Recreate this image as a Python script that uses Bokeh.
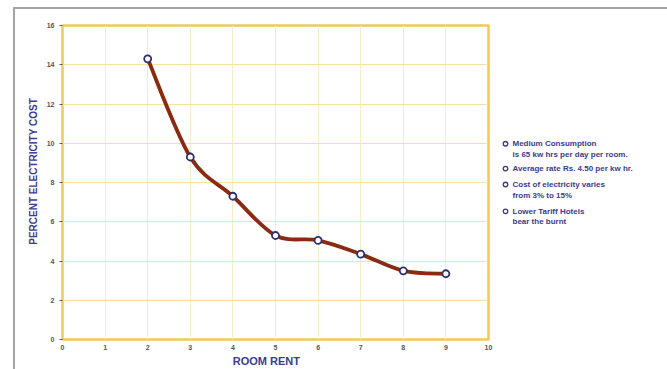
from bokeh.plotting import figure
from bokeh.layouts import row
from bokeh.models import FixedTicker, Range1d
from bokeh.core.properties import value
from bokeh.embed import file_html
from bokeh.resources import INLINE

# ---- data ----
room_rent = [2, 3, 4, 5, 6, 7, 8, 9]
percent_cost = [14.3, 9.3, 7.3, 5.3, 5.05, 4.35, 3.5, 3.35]
x_ticks = list(range(0, 11))
y_ticks = list(range(0, 17, 2))
note_lines = ["Medium Consumption", "is 65 kw hrs per day per room.",
              "Average rate Rs. 4.50 per kw hr.",
              "Cost of electricity varies", "from 3% to 15%",
              "Lower Tariff Hotels", "bear the burnt"]
note_starts = [True, False, True, True, False, True, False]

# ---- layout (page pixels) ----
OX, OY = 15, 9            # top-left of the figures inside the gray border
SPLIT = 495
MAIN_W = SPLIT - OX
H = 369 - OY
FL, FR, FT, FB = 62, 488, 25, 341
FONT = "Liberation Sans"
BLUE = "#3b3b96"

p = figure(width=MAIN_W, height=H, output_backend="svg", toolbar_location=None,
           x_range=Range1d(0, 10), y_range=Range1d(0, 16),
           min_border_left=FL - OX, min_border_right=SPLIT - FR,
           min_border_top=FT - OY, min_border_bottom=369 - FB)
p.background_fill_color = "white"
p.border_fill_color = "white"
p.outline_line_color = "#f2c85a"
p.outline_line_width = 2.5

p.xgrid.ticker = FixedTicker(ticks=x_ticks)
p.ygrid.ticker = FixedTicker(ticks=y_ticks)
p.xgrid.grid_line_color = "#f8ecc8"
p.ygrid.grid_line_color = "#f6e2a8"
p.ygrid.grid_line_width = 1.2

for ax in (p.xaxis[0], p.yaxis[0]):
    ax.axis_line_color = None
    ax.major_tick_line_color = "#555555"
    ax.minor_tick_line_color = None
    ax.major_label_text_font = FONT
    ax.major_label_text_font_style = "bold"
    ax.major_label_text_font_size = "7px"
    ax.major_label_text_color = "#555555"
    ax.axis_label_text_font = FONT
    ax.axis_label_text_font_style = "bold"
    ax.axis_label_text_color = BLUE
p.xaxis.ticker = FixedTicker(ticks=x_ticks)
p.yaxis.ticker = FixedTicker(ticks=y_ticks)
p.xaxis.major_tick_out = 0
p.xaxis.major_tick_in = 0
p.xaxis.major_label_standoff = 5
p.xaxis.axis_label = "ROOM RENT" + "\u00a0" * 6
p.xaxis.axis_label_text_font_size = "11px"
p.xaxis.axis_label_standoff = 2
p.yaxis.major_tick_out = 3
p.yaxis.major_tick_in = 0
p.yaxis.major_label_standoff = 5
p.yaxis.axis_label = "\u00a0" * 8 + "PERCENT ELECTRICITY COST"
p.yaxis.axis_label_text_font_size = "10px"
p.yaxis.axis_label_standoff = 5

# smooth curve (Catmull-Rom through the data points)
n = len(room_rent)
pts = list(zip(room_rent, percent_cost))
x0s, y0s, x1s, y1s, cx0, cy0, cx1, cy1 = [], [], [], [], [], [], [], []
for i in range(n - 1):
    pm = pts[max(i - 1, 0)]
    p0 = pts[i]
    p1 = pts[i + 1]
    p2 = pts[min(i + 2, n - 1)]
    x0s.append(p0[0]); y0s.append(p0[1])
    x1s.append(p1[0]); y1s.append(p1[1])
    cx0.append(p0[0] + (p1[0] - pm[0]) / 6); cy0.append(p0[1] + (p1[1] - pm[1]) / 6)
    cx1.append(p1[0] - (p2[0] - p0[0]) / 6); cy1.append(p1[1] - (p2[1] - p0[1]) / 6)
p.bezier(x0=x0s, y0=y0s, x1=x1s, y1=y1s, cx0=cx0, cy0=cy0, cx1=cx1, cy1=cy1,
         line_color="#8a2a10", line_width=3.8)
p.scatter(room_rent, percent_cost, size=7, fill_color="white",
          line_color="#2e2e70", line_width=1.8)

# ---- notes panel: same frame rows as the chart, y in page pixels ----
NW = 667 - SPLIT
q = figure(width=NW, height=H, output_backend="svg", toolbar_location=None,
           x_range=Range1d(SPLIT, 667), y_range=Range1d(FB, FT),
           min_border_left=0, min_border_right=0,
           min_border_top=FT - OY, min_border_bottom=369 - FB,
           x_axis_type=None, y_axis_type=None)
q.outline_line_color = None
q.grid.visible = False
q.background_fill_color = "white"
q.border_fill_color = "white"

line_px = [144, 155, 169, 185, 196, 212, 222]
tx = [512] * len(note_lines)
q.text(x=tx, y=line_px, text=note_lines, text_font=value(FONT),
       text_font_style="bold", text_font_size="8px", text_color="#3b3b8c",
       text_align="left", text_baseline="middle")
bx = [505 for s in note_starts if s]
by = [y for y, s in zip(line_px, note_starts) if s]
q.scatter(x=bx, y=by, size=4.5, fill_color="white", line_color="#3b3b8c",
          line_width=1.3)

layout = row(p, q, margin=(7, 0, 0, 13),
             styles={"border-top": "2px solid #a4a4a4",
                     "border-left": "2px solid #a4a4a4"})

open("out.html", "w").write(file_html(layout, INLINE))
